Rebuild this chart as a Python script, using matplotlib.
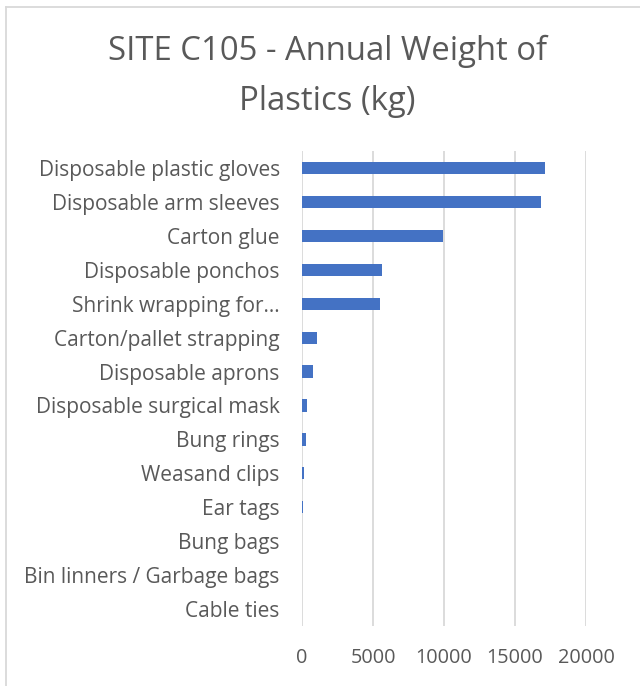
import matplotlib
matplotlib.use("Agg")
import matplotlib.pyplot as plt
from matplotlib.lines import Line2D

categories = [
    "Disposable plastic gloves",
    "Disposable arm sleeves",
    "Carton glue",
    "Disposable ponchos",
    "Shrink wrapping for\u2026",
    "Carton/pallet strapping",
    "Disposable aprons",
    "Disposable surgical mask",
    "Bung rings",
    "Weasand clips",
    "Ear tags",
    "Bung bags",
    "Bin linners / Garbage bags",
    "Cable ties",
]
weights = [17100, 16800, 9900, 5600, 5500, 1060, 800, 375, 280, 165, 100, 30, 5, 2]
xticks = [0, 5000, 10000, 15000, 20000]
title_lines = ["SITE C105 - Annual Weight of", "Plastics (kg)"]

TEXT = "#595959"
GRID = "#D9D9D9"
BAR = "#4472C4"
FONT = "Open Sans"

W, H = 640, 686
fig = plt.figure(figsize=(W / 100, H / 100), dpi=100)
fig.patch.set_facecolor("white")

# chart border (top & left visible)
fig.add_artist(Line2D([5.5 / W, 5.5 / W], [0, 1 - 6.5 / H], transform=fig.transFigure, color=GRID, lw=1.3))
fig.add_artist(Line2D([5.5 / W, 1], [1 - 6.5 / H, 1 - 6.5 / H], transform=fig.transFigure, color=GRID, lw=1.3))

left, right, top, bottom = 302, 586, 151, 626
ax = fig.add_axes([left / W, 1 - bottom / H, (right - left) / W, (bottom - top) / H])

y = list(range(len(categories)))
ax.barh(y, weights, height=0.36, color=BAR, zorder=3)
ax.set_ylim(len(categories) - 0.5, -0.5)
ax.set_xlim(0, 20000)
ax.set_yticks(y)
ax.set_yticklabels(categories, fontsize=15, color=TEXT, family=FONT)
ax.set_xticks(xticks)
ax.set_xticklabels([str(v) for v in xticks], fontsize=14.3, color=TEXT, family=FONT)
ax.tick_params(axis="y", length=0, pad=16)
ax.tick_params(axis="x", length=0, pad=16)
ax.grid(axis="x", color=GRID, lw=1.3, zorder=0)
for s in ax.spines.values():
    s.set_visible(False)

# title, two lines placed by their baselines
for line, base in zip(title_lines, [60, 110]):
    fig.text(327 / W, 1 - base / H, line, ha="center", va="baseline", fontsize=23.7,
             color=TEXT, family=FONT)

fig.savefig("out.png", dpi=100, facecolor="white")
